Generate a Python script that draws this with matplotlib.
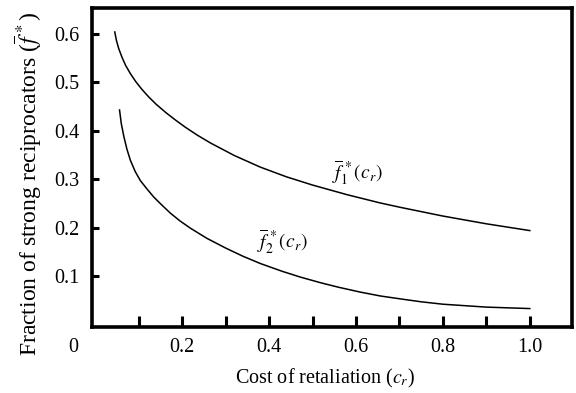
import matplotlib
matplotlib.use("Agg")
import matplotlib.pyplot as plt

plt.rcParams['font.family'] = ['Liberation Serif', 'DejaVu Serif']
plt.rcParams['mathtext.fontset'] = 'stix'

# values
c1 = [0.045, 0.049, 0.054, 0.062, 0.070, 0.081, 0.093, 0.107, 0.123, 0.14,
      0.162, 0.185, 0.208, 0.235, 0.265, 0.32, 0.38, 0.44, 0.5, 0.58,
      0.656, 0.702, 0.8, 0.9, 1.0]
f1 = [0.604, 0.586, 0.570, 0.551, 0.535, 0.518, 0.502, 0.486, 0.470, 0.455,
      0.438, 0.422, 0.407, 0.391, 0.375, 0.349, 0.325, 0.305, 0.288, 0.268,
      0.251, 0.242, 0.224, 0.208, 0.194]

c2 = [0.056, 0.060, 0.066, 0.073, 0.081, 0.092, 0.104, 0.12, 0.135, 0.153,
      0.173, 0.195, 0.219, 0.257, 0.30, 0.34, 0.38, 0.43, 0.472, 0.52,
      0.56, 0.61, 0.656, 0.702, 0.75, 0.8, 0.9, 1.0]
f2 = [0.443, 0.415, 0.388, 0.362, 0.339, 0.316, 0.297, 0.279, 0.263, 0.247,
      0.230, 0.214, 0.199, 0.178, 0.158, 0.141, 0.126, 0.110, 0.098, 0.086,
      0.077, 0.067, 0.059, 0.053, 0.047, 0.042, 0.036, 0.033]

xticks = [0.1, 0.2, 0.3, 0.4, 0.5, 0.6, 0.7, 0.8, 0.9, 1.0]
xticklabels = ['', '0.2', '', '0.4', '', '0.6', '', '0.8', '', '1.0']
yticks = [0.1, 0.2, 0.3, 0.4, 0.5, 0.6]

fig = plt.figure(figsize=(5.76, 3.93), dpi=100)
ax = fig.add_axes([0.16, 0.168, 0.833, 0.811])

ax.plot(c1, f1, color='black', lw=1.1)
ax.plot(c2, f2, color='black', lw=1.1)

ax.text(0.545, 0.313, r'$\overline{f}^{\,*}_{1}(c_r)$', fontsize=14,
        va='center', ha='left')
ax.text(0.372, 0.170, r'$\overline{f}^{\,*}_{2}(c_r)$', fontsize=14,
        va='center', ha='left')

ax.set_xlim(-0.007, 1.097)
ax.set_ylim(-0.005, 0.653)
ax.set_xticks(xticks)
ax.set_xticklabels(xticklabels)
ax.set_yticks(yticks)
ax.set_yticklabels(['%.1f' % v for v in yticks])
ax.tick_params(axis='x', direction='in', length=8, width=2.2,
               labelsize=14.5, pad=8)
ax.tick_params(axis='y', direction='in', length=5, width=2.2,
               labelsize=14.5, pad=9)

# shared origin label
ax.text(-0.05, -0.047, '0', fontsize=14.5, ha='center', va='center')

for s in ax.spines.values():
    s.set_linewidth(2.6)

ax.set_xlabel(r'Cost of retaliation ($c_r$)', fontsize=14.5)
ax.xaxis.set_label_coords(0.486, -0.125)
ax.set_ylabel(r'Fraction of strong reciprocators ($\overline{f}^{\,*}$)',
              fontsize=17)
ax.yaxis.set_label_coords(-0.10, 0.45)

fig.savefig('out.png', dpi=100)
